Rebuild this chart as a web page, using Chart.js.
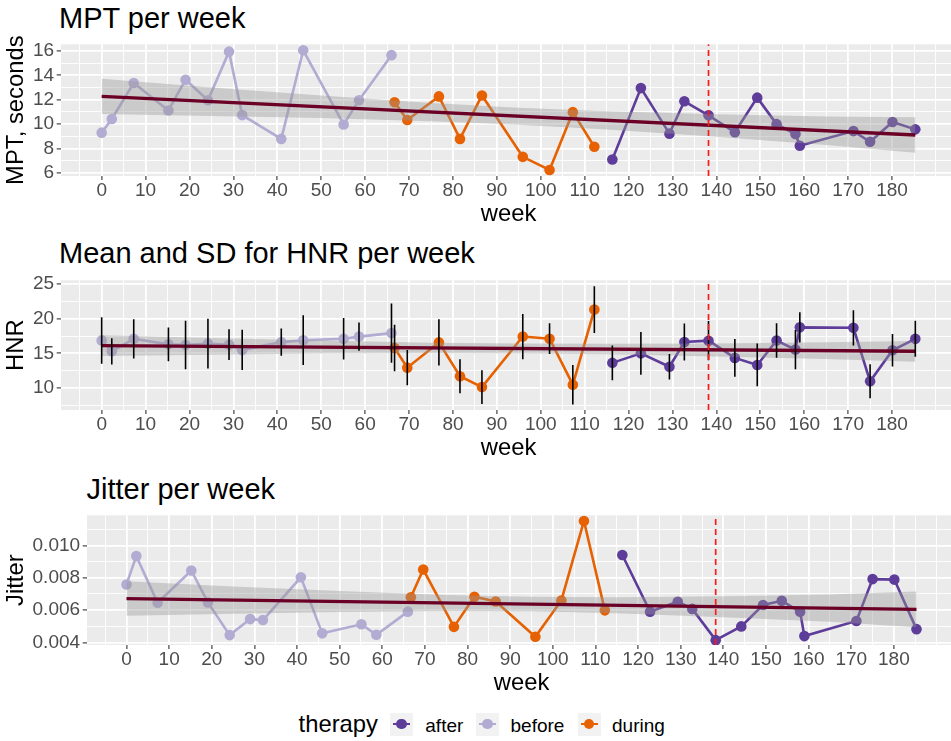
<!DOCTYPE html>
<html><head><meta charset="utf-8">
<script src="https://cdn.jsdelivr.net/npm/chart.js@4.4.1/dist/chart.umd.min.js"></script>
<style>
html,body{margin:0;padding:0;background:#fff;overflow:hidden;}
#wrap{position:relative;width:951px;height:741px;overflow:hidden;font-family:"Liberation Sans",Arial,sans-serif;background:#fff;}
#wrap canvas{position:absolute;left:0;}
.t{position:absolute;white-space:nowrap;line-height:1;color:#000;}
.key{position:absolute;width:23px;height:23px;background:#F2F2F2;top:712.5px;}
.key .ln{position:absolute;left:3px;right:3px;top:10.2px;height:2.6px;}
.key .pt{position:absolute;left:6.2px;top:6.2px;width:10.6px;height:10.6px;border-radius:50%;}
</style></head><body><div id="wrap">
<div class="t" style="left:59px;top:3.8px;font-size:29px;">MPT per week</div>
<div class="t" style="left:59px;top:238.8px;font-size:29px;">Mean and SD for HNR per week</div>
<div class="t" style="left:86.5px;top:474.8px;font-size:29px;">Jitter per week</div>
<canvas id="c1" width="963" height="196" style="top:36px"></canvas>
<canvas id="c2" width="963" height="194" style="top:272px"></canvas>
<canvas id="c3" width="963" height="194" style="top:507px"></canvas>
<div class="t" style="left:298.6px;top:711.5px;font-size:23.8px;">therapy</div>
<div class="key" style="left:390px"><div class="ln" style="background:#5E3C99"></div><div class="pt" style="background:#5E3C99"></div></div>
<div class="t" style="left:425.3px;top:715.6px;font-size:19px;">after</div>
<div class="key" style="left:476px"><div class="ln" style="background:#B2ABD2"></div><div class="pt" style="background:#B2ABD2"></div></div>
<div class="t" style="left:510.5px;top:715.6px;font-size:19px;">before</div>
<div class="key" style="left:577.5px"><div class="ln" style="background:#E66101"></div><div class="pt" style="background:#E66101"></div></div>
<div class="t" style="left:612px;top:715.6px;font-size:19px;">during</div>
</div>
<script>
// ---------- data ----------
const therapyGroups = ['after', 'before', 'during'];
const weeksBefore = [0, 2.3, 7.3, 15.2, 19.1, 24.2, 29.0, 32.0, 40.9, 45.9, 55.1, 58.6, 66.0];
const weeksDuring = [66.7, 69.6, 76.8, 81.6, 86.6, 95.9, 102.0, 107.3, 112.2];
const weeksAfter = [116.3, 122.8, 129.3, 132.7, 138.2, 144.2, 149.3, 153.7, 158.0, 159.0, 171.2, 175.0, 180.1, 185.3];

const mptBefore = [9.30, 10.42, 13.37, 11.12, 13.64, 11.95, 15.94, 10.74, 8.79, 16.05, 9.97, 11.95, 15.65];
const mptDuring = [11.79, 10.34, 12.27, 8.79, 12.35, 7.32, 6.24, 10.98, 8.15];
const mptAfter = [7.10, 12.95, 9.22, 11.87, 10.72, 9.33, 12.17, 10.00, 9.19, 8.23, 9.43, 8.55, 10.18, 9.57];

const hnrBefore = [16.87, 15.30, 17.10, 16.30, 16.20, 16.40, 16.25, 15.50, 16.62, 16.90, 17.12, 17.42, 17.93];
const hnrBeforeSd = [3.37, 1.90, 2.84, 2.43, 3.50, 3.60, 2.22, 2.90, 1.97, 3.60, 3.00, 2.06, 4.30];
const hnrDuring = [15.77, 12.93, 16.58, 11.68, 10.12, 17.43, 17.12, 10.46, 21.33];
const hnrDuringSd = [3.36, 2.55, 3.34, 2.45, 2.45, 3.27, 2.23, 2.85, 3.37];
const hnrAfter = [13.62, 15.00, 13.06, 16.63, 16.83, 14.34, 13.32, 16.85, 15.54, 18.76, 18.70, 10.95, 15.45, 17.10];
const hnrAfterSd = [2.53, 3.10, 1.83, 2.68, 2.84, 2.73, 3.10, 2.50, 2.84, 2.18, 2.55, 2.46, 2.35, 2.60];

const jitBefore = [0.00759, 0.00934, 0.00646, 0.00845, 0.00648, 0.00446, 0.00545, 0.00539, 0.00803, 0.00457, 0.00513, 0.00448, 0.00591];
const jitDuring = [0.00680, 0.00851, 0.00497, 0.00683, 0.00654, 0.00436, 0.00660, 0.01151, 0.00599];
const jitAfter = [0.00941, 0.00591, 0.00652, 0.00608, 0.00415, 0.00500, 0.00632, 0.00658, 0.00590, 0.00440, 0.00533, 0.00792, 0.00789, 0.00483];

// linear fit and its confidence band
const fitWeeks = [0, 185.3];
const mptFit = [12.27, 9.11];
const hnrFit = [16.12, 15.30];
const jitFit = [0.006716, 0.006053];
const bandWeeks = [0, 25, 50, 75, 95, 115, 140, 165, 185.3];
const mptUpper = [13.72, 13.01, 12.34, 11.74, 11.35, 11.06, 10.80, 10.62, 10.56];
const mptLower = [10.82, 10.67, 10.50, 10.24, 9.95, 9.56, 8.96, 8.28, 7.66];
const hnrUpper = [17.62, 17.21, 16.84, 16.55, 16.41, 16.37, 16.44, 16.59, 16.80];
const hnrLower = [14.62, 14.81, 14.96, 15.03, 14.99, 14.85, 14.56, 14.19, 13.80];
const jitUpper = [0.00779, 0.00747, 0.00718, 0.00694, 0.00683, 0.00680, 0.00686, 0.00697, 0.00715];
const jitLower = [0.00565, 0.00578, 0.00589, 0.00595, 0.00593, 0.00581, 0.00557, 0.00528, 0.00495];

const vlineWeek = 138.2;
const xTickLabels = [0,10,20,30,40,50,60,70,80,90,100,110,120,130,140,150,160,170,180];

// ---------- styling ----------
const FONT = '"Liberation Sans", Arial, sans-serif';
Chart.defaults.font.family = FONT;
const COLORS = {after:'#5E3C99', before:'#B2ABD2', during:'#E66101'};

const bgPlugin = {
  id: 'panelBg',
  beforeDraw(chart) {
    const {ctx, chartArea: a} = chart;
    ctx.save();
    ctx.fillStyle = '#EBEBEB';
    ctx.fillRect(a.left, a.top, a.right - a.left, a.bottom - a.top);
    ctx.restore();
  }
};

function pts(ws, vs) { return ws.map((w, i) => ({x: w, y: vs[i]})); }

function makePanel(id, p) {
  const datasets = [];
  const grp = {after: [weeksAfter, p.after], before: [weeksBefore, p.before], during: [weeksDuring, p.during]};
  therapyGroups.forEach(g => {
    datasets.push({
      label: g, data: pts(grp[g][0], grp[g][1]),
      borderColor: COLORS[g], backgroundColor: COLORS[g],
      pointBackgroundColor: COLORS[g], pointBorderColor: COLORS[g],
      pointRadius: 5.3, pointBorderWidth: 0, borderWidth: 2.6, tension: 0, order: 10, fill: false
    });
  });
  datasets.push({label: 'lower', data: pts(bandWeeks, p.lower), borderWidth: 0, borderColor: 'rgba(0,0,0,0)',
    pointRadius: 0, fill: false, order: 5, tension: 0});
  datasets.push({label: 'upper', data: pts(bandWeeks, p.upper), borderWidth: 0, borderColor: 'rgba(0,0,0,0)',
    backgroundColor: 'rgba(153,153,153,0.4)', pointRadius: 0, fill: '-1', order: 5, tension: 0});
  datasets.push({label: 'fit', data: pts(fitWeeks, p.fit), borderColor: '#6B0026', borderWidth: 3.3,
    pointRadius: 0, fill: false, order: 4});
  if (p.sd) {
    const eb = [];
    therapyGroups.forEach(g => {
      const ws = grp[g][0], vs = grp[g][1], sd = p.sd[g];
      ws.forEach((w, i) => { eb.push({x: w, y: vs[i] - sd[i]}, {x: w, y: vs[i] + sd[i]}, {x: w, y: null}); });
    });
    datasets.push({label: 'sd', data: eb, borderColor: '#000000', borderWidth: 1.6, pointRadius: 0,
      spanGaps: false, fill: false, order: 3});
  }
  datasets.push({label: 'vline', data: [{x: vlineWeek, y: p.ymin}, {x: vlineWeek, y: p.ymax}],
    borderColor: '#FF1A1A', borderWidth: 1.7, borderDash: [6, 4], pointRadius: 0, fill: false, order: 1});

  const yTicks = [];
  for (let k = Math.ceil(p.ymin / p.ystep - 1e-9); k * p.ystep <= p.ymax + 1e-12; k++) {
    yTicks.push({value: +(k * p.ystep).toFixed(6), mj: k % 2 === 0});
  }
  const xTicks = [];
  for (let k = -1; k <= 38; k++) {
    const v = k * 5;
    xTicks.push({value: v, mj: xTickLabels.includes(v)});
  }

  new Chart(document.getElementById(id), {
    type: 'line',
    data: {datasets},
    plugins: [bgPlugin],
    options: {
      responsive: false, animation: false, devicePixelRatio: 1, events: [],
      layout: {padding: {top: 6, right: 7, bottom: 0, left: 0}},
      plugins: {legend: {display: false}, tooltip: {enabled: false}},
      scales: {
        x: {
          type: 'linear', min: -9.265, max: 194.565,
          afterBuildTicks(s) { s.ticks = xTicks.map(t => ({...t})); },
          afterFit(s) { s.height = 56; },
          border: {display: false},
          grid: {
            color: '#FFFFFF', lineWidth: c => (c.tick && c.tick.mj ? 1.8 : 0.9),
            tickLength: 4, tickWidth: 1.1,
            tickColor: c => (c.tick && c.tick.mj ? '#333333' : 'rgba(0,0,0,0)')
          },
          ticks: {
            autoSkip: false, maxRotation: 0, minRotation: 0, padding: 1, color: '#4D4D4D',
            font: {size: 19, lineHeight: 1},
            callback: (v, i, ts) => (ts[i].mj ? String(v) : '')
          },
          title: {display: true, text: 'week', color: '#000000', font: {size: 23.8}, padding: {top: 0, bottom: 3.5}}
        },
        y: {
          type: 'linear', min: p.ymin, max: p.ymax,
          afterBuildTicks(s) { s.ticks = yTicks.map(t => ({...t})); },
          afterFit(s) { s.width = p.left; },
          border: {display: false},
          grid: {
            color: '#FFFFFF', lineWidth: c => (c.tick && c.tick.mj ? 1.8 : 0.9),
            tickLength: 4.3, tickWidth: 1.1,
            tickColor: c => (c.tick && c.tick.mj ? '#333333' : 'rgba(0,0,0,0)')
          },
          ticks: {
            autoSkip: false, padding: 2.6, color: '#4D4D4D', font: {size: 19, lineHeight: 0.6},
            callback: (v, i, ts) => (ts[i].mj ? p.fmt(v) : '')
          },
          title: {display: true, text: p.ytitle, color: '#000000', font: {size: 23.8}, padding: {top: 2.5, bottom: 0}}
        }
      }
    }
  });
}

makePanel('c1', {after: mptAfter, before: mptBefore, during: mptDuring,
  upper: mptUpper, lower: mptLower, fit: mptFit,
  ymin: 5.75, ymax: 16.54, ystep: 1, left: 61, ytitle: 'MPT, seconds', fmt: v => String(v)});
makePanel('c2', {after: hnrAfter, before: hnrBefore, during: hnrDuring,
  sd: {after: hnrAfterSd, before: hnrBeforeSd, during: hnrDuringSd},
  upper: hnrUpper, lower: hnrLower, fit: hnrFit,
  ymin: 6.8, ymax: 25.57, ystep: 2.5, left: 61, ytitle: 'HNR', fmt: v => String(v)});
makePanel('c3', {after: jitAfter, before: jitBefore, during: jitDuring,
  upper: jitUpper, lower: jitLower, fit: jitFit,
  ymin: 0.00385, ymax: 0.01186, ystep: 0.001, left: 87, ytitle: 'Jitter', fmt: v => v.toFixed(3)});
</script>
</body></html>
